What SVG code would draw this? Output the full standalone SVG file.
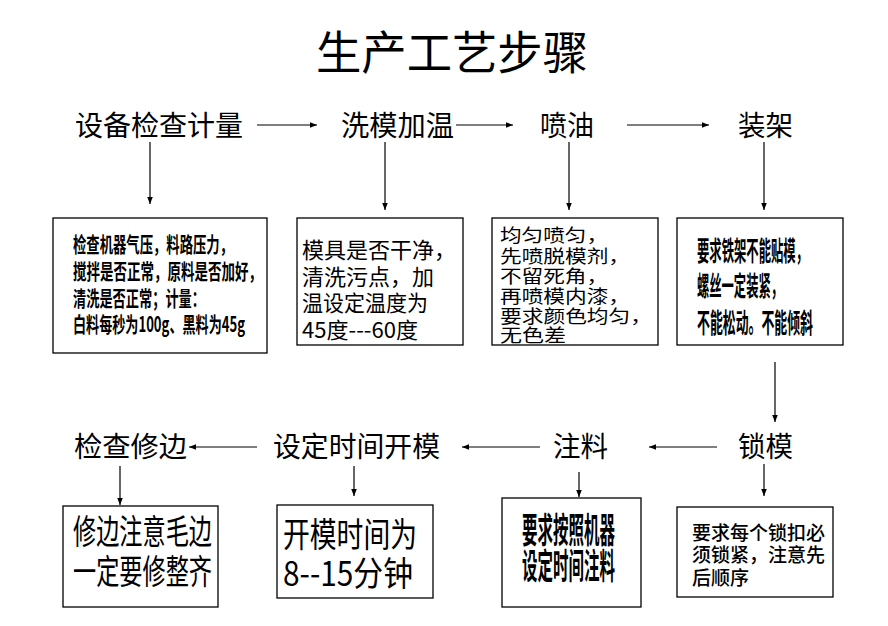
<svg xmlns="http://www.w3.org/2000/svg" width="888" height="626" viewBox="0 0 888 626">
<defs>
<marker id="ah" viewBox="0 0 10 10" refX="10" refY="5" markerWidth="7" markerHeight="7" markerUnits="userSpaceOnUse" orient="auto"><path d="M0,1 L10,5 L0,9 z" fill="#000"/></marker>
<style>
text{font-family:"Noto Sans CJK SC","Noto Sans CJK JP",sans-serif;fill:#000}
.t{font-size:46px}
.lb{font-size:28px}
.box{fill:#fff;stroke:#000;stroke-width:1.3}
.c{font-weight:700}
#connectors line{stroke:#000;stroke-width:1.2;fill:none;marker-end:url(#ah)}
</style>
</defs>
<rect width="888" height="626" fill="#fff"/>
<text class="t" x="316" y="69" textLength="272" lengthAdjust="spacingAndGlyphs">生产工艺步骤</text>

<g id="connectors">
<line x1="257" y1="125" x2="317" y2="125"/>
<line x1="456" y1="125" x2="513" y2="125"/>
<line x1="627" y1="125" x2="709" y2="125"/>
<line x1="150" y1="142" x2="150" y2="204"/>
<line x1="385" y1="142" x2="385" y2="210"/>
<line x1="569" y1="142" x2="569" y2="210"/>
<line x1="764" y1="142" x2="764" y2="210"/>
<line x1="775" y1="362" x2="775" y2="422"/>
<line x1="717" y1="447" x2="649" y2="447"/>
<line x1="540" y1="447" x2="462" y2="447"/>
<line x1="257" y1="447" x2="189" y2="447"/>
<line x1="120" y1="466" x2="120" y2="505"/>
<line x1="354" y1="466" x2="354" y2="496"/>
<line x1="579" y1="472" x2="579" y2="497"/>
<line x1="764" y1="464" x2="764" y2="496"/>
</g>

<g id="n1"><text class="lb" x="75" y="136" textLength="168" lengthAdjust="spacingAndGlyphs">设备检查计量</text></g>
<g id="n2"><text class="lb" x="341" y="136" textLength="113" lengthAdjust="spacingAndGlyphs">洗模加温</text></g>
<g id="n3"><text class="lb" x="540" y="136" textLength="54" lengthAdjust="spacingAndGlyphs">喷油</text></g>
<g id="n4"><text class="lb" x="738" y="136" textLength="55" lengthAdjust="spacingAndGlyphs">装架</text></g>

<g id="d1"><rect class="box" x="53" y="218" width="214" height="135"/>
<g class="c" font-size="21">
<text x="73" y="252" textLength="160" lengthAdjust="spacingAndGlyphs">检查机器气压，料路压力，</text>
<text x="73" y="279" textLength="189" lengthAdjust="spacingAndGlyphs">搅拌是否正常，原料是否加好，</text>
<text x="73" y="306" textLength="132" lengthAdjust="spacingAndGlyphs">清洗是否正常；计量：</text>
<text x="73" y="332" textLength="172" lengthAdjust="spacingAndGlyphs">白料每秒为100g、黑料为45g</text>
</g></g>

<g id="d2"><rect class="box" x="297" y="218" width="166" height="127"/>
<g font-size="22">
<text x="302" y="258">模具是否干净，</text>
<text x="302" y="285">清洗污点，加</text>
<text x="302" y="311" textLength="126" lengthAdjust="spacingAndGlyphs">温设定温度为</text>
<text x="302" y="338" textLength="116" lengthAdjust="spacingAndGlyphs">45度---60度</text>
</g></g>

<g id="d3"><rect class="box" x="492" y="218" width="166" height="127"/>
<g font-size="18">
<text x="500" y="242" textLength="108" lengthAdjust="spacingAndGlyphs">均匀喷匀，</text>
<text x="500" y="263" textLength="130" lengthAdjust="spacingAndGlyphs">先喷脱模剂，</text>
<text x="500" y="283" textLength="108" lengthAdjust="spacingAndGlyphs">不留死角，</text>
<text x="500" y="303" textLength="130" lengthAdjust="spacingAndGlyphs">再喷模内漆，</text>
<text x="500" y="323" textLength="152" lengthAdjust="spacingAndGlyphs">要求颜色均匀，</text>
<text x="500" y="342" textLength="66" lengthAdjust="spacingAndGlyphs">无色差</text>
</g></g>

<g id="d4"><rect class="box" x="677" y="218" width="166" height="127"/>
<g class="c" font-size="27">
<text x="697" y="261" textLength="111" lengthAdjust="spacingAndGlyphs">要求铁架不能贴模，</text>
<text x="697" y="296" textLength="86" lengthAdjust="spacingAndGlyphs">螺丝一定装紧，</text>
<text x="697" y="333" textLength="116" lengthAdjust="spacingAndGlyphs">不能松动。不能倾斜</text>
</g></g>

<g id="n5"><text class="lb" x="738" y="457" textLength="55" lengthAdjust="spacingAndGlyphs">锁模</text></g>
<g id="n6"><text class="lb" x="553" y="457" textLength="55" lengthAdjust="spacingAndGlyphs">注料</text></g>
<g id="n7"><text class="lb" x="273" y="457" textLength="167" lengthAdjust="spacingAndGlyphs">设定时间开模</text></g>
<g id="n8"><text class="lb" x="74" y="457" textLength="113" lengthAdjust="spacingAndGlyphs">检查修边</text></g>

<g id="d5"><rect class="box" x="63" y="506" width="155" height="101"/>
<g font-size="34">
<text x="73" y="544" textLength="139" lengthAdjust="spacingAndGlyphs">修边注意毛边</text>
<text x="73" y="584" textLength="139" lengthAdjust="spacingAndGlyphs">一定要修整齐</text>
</g></g>

<g id="d6"><rect class="box" x="277" y="505" width="156" height="93"/>
<g font-size="34">
<text x="283" y="547" textLength="134" lengthAdjust="spacingAndGlyphs">开模时间为</text>
<text x="283" y="586" textLength="130" lengthAdjust="spacingAndGlyphs">8--15分钟</text>
</g></g>

<g id="d7"><rect class="box" x="502" y="498" width="139" height="109"/>
<g class="c" font-size="35">
<text x="522" y="543" textLength="93" lengthAdjust="spacingAndGlyphs">要求按照机器</text>
<text x="522" y="579" textLength="93" lengthAdjust="spacingAndGlyphs">设定时间注料</text>
</g></g>

<g id="d8"><rect class="box" x="677" y="507" width="156" height="90"/>
<g font-size="19" font-weight="500">
<text x="692" y="540" textLength="133" lengthAdjust="spacingAndGlyphs">要求每个锁扣必</text>
<text x="692" y="562" textLength="133" lengthAdjust="spacingAndGlyphs">须锁紧，注意先</text>
<text x="692" y="585" textLength="57" lengthAdjust="spacingAndGlyphs">后顺序</text>
</g></g>
</svg>
